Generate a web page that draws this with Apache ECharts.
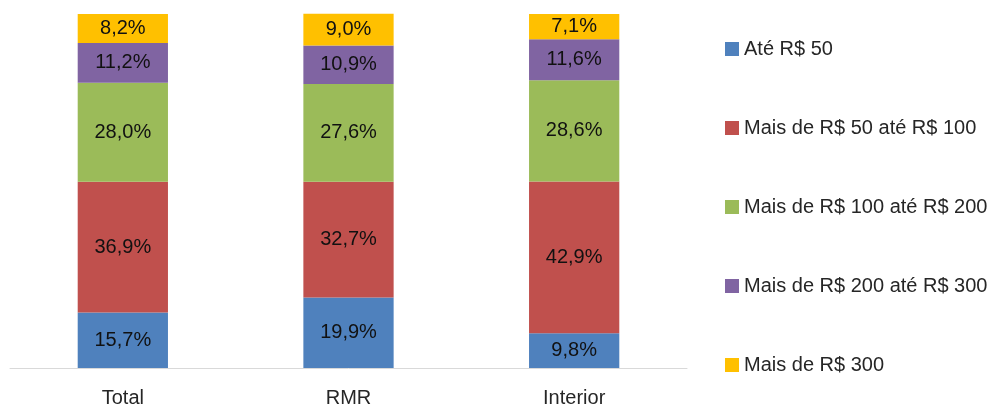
<!DOCTYPE html>
<html>
<head>
<meta charset="utf-8">
<script src="https://cdn.jsdelivr.net/npm/echarts@6/dist/echarts.min.js"></script>
<style>
  html, body { margin: 0; padding: 0; background: #fff; }
  #chart { width: 998px; height: 409px; }
</style>
</head>
<body>
<div id="chart"></div>
<script>
  var categories = ['Total', 'RMR', 'Interior']
  var seriesNames = ['Até R$ 50', 'Mais de R$ 50 até R$ 100', 'Mais de R$ 100 até R$ 200', 'Mais de R$ 200 até R$ 300', 'Mais de R$ 300']
  var ate50 = [15.7, 19.9, 9.8]
  var de50a100 = [36.9, 32.7, 42.9]
  var de100a200 = [28.0, 27.6, 28.6]
  var de200a300 = [11.2, 10.9, 11.6]
  var mais300 = [8.2, 9.0, 7.1]
  var colors = ['#4F81BD', '#C0504D', '#9BBB59', '#8064A2', '#FFC000']

  var values = [ate50, de50a100, de100a200, de200a300, mais300]
  var font = 'Liberation Sans, Arial, sans-serif'

  var chart = echarts.init(document.getElementById('chart'))

  var series = []
  for (var i = 0; i < values.length; i++) {
    series.push({
      name: seriesNames[i],
      type: 'bar',
      stack: 'total',
      barWidth: '40%',
      clip: false,
      itemStyle: { color: colors[i] },
      label: {
        show: true,
        position: 'inside',
        color: '#111',
        fontFamily: font,
        fontSize: 20,
        formatter: function (p) {
          return p.value.toFixed(1).replace('.', ',') + '%'
        }
      },
      data: values[i]
    })
  }

  var option = {
    animation: false,
    color: colors,
    grid: { left: 10, right: 311, top: 14, bottom: 41 },
    legend: {
      orient: 'vertical',
      left: 720,
      top: 34,
      icon: 'rect',
      itemWidth: 14,
      itemHeight: 14,
      itemGap: 59,
      textStyle: { fontFamily: font, fontSize: 20, color: '#262626' },
      data: seriesNames
    },
    xAxis: {
      type: 'category',
      data: categories,
      axisLine: { lineStyle: { color: '#d9d9d9', width: 1 } },
      axisTick: { show: false },
      axisLabel: { fontFamily: font, fontSize: 20, color: '#262626', margin: 20 }
    },
    yAxis: {
      type: 'value',
      min: 0,
      max: 100,
      show: false,
      splitLine: { show: false }
    },
    series: series
  }

  chart.setOption(option)
</script>
</body>
</html>
